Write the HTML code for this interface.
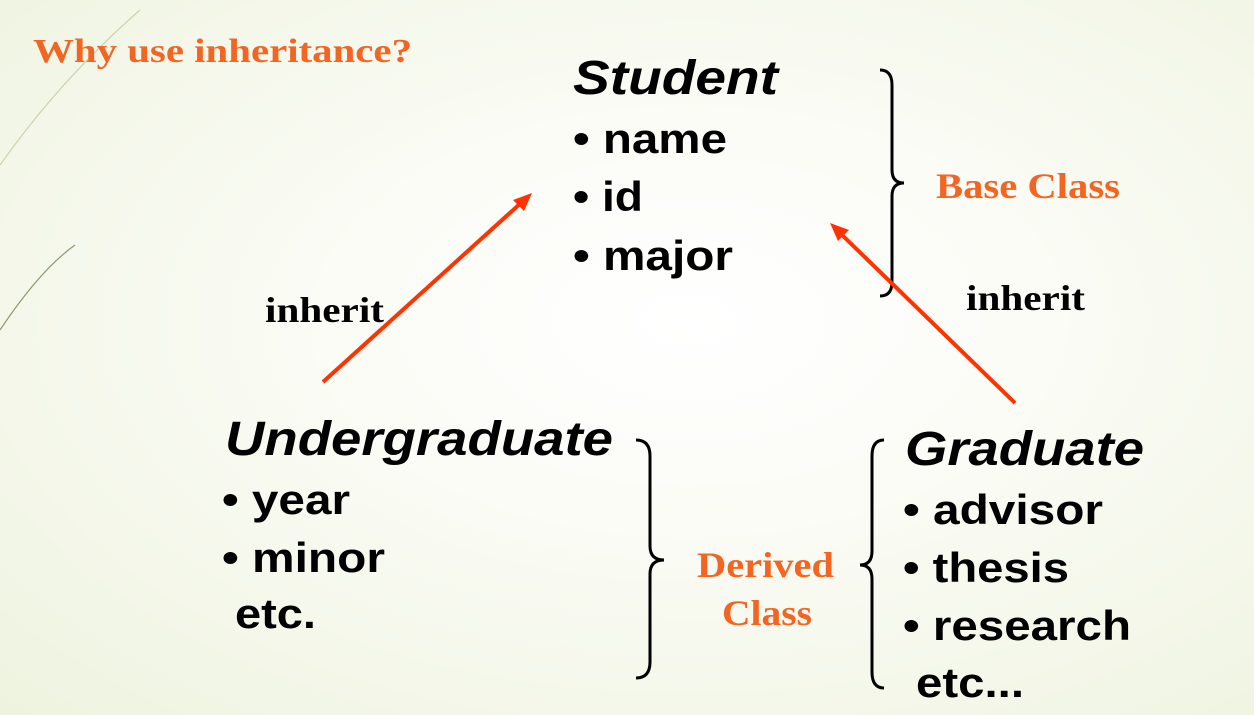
<!DOCTYPE html>
<html><head><meta charset="utf-8"><style>
html,body{margin:0;padding:0;width:1254px;height:715px;overflow:hidden}
body{background:radial-gradient(ellipse at 55% 45%,#ffffff 0%,#fbfcf6 35%,#eef3df 100%)}
svg{position:absolute;left:0;top:0}
.s{font-family:"Liberation Sans",sans-serif;font-weight:bold;fill:#000}
.t{font-family:"Liberation Serif",serif;font-weight:bold}
</style></head><body>
<svg width="1254" height="715" viewBox="0 0 1254 715">
<path d="M0 165 Q60 80 140 10" stroke="#c9d3b0" stroke-width="1.2" fill="none"/>
<path d="M0 330 Q40 270 75 245" stroke="#8a9a70" stroke-width="1.2" fill="none"/>
<text x="33" y="62" class="t" font-size="34" fill="#f26522" textLength="379" lengthAdjust="spacingAndGlyphs">Why use inheritance?</text>
<text x="573" y="94" class="s" font-size="48" font-style="italic" textLength="205" lengthAdjust="spacingAndGlyphs">Student</text>
<text x="573" y="153" class="s" font-size="42" textLength="154" lengthAdjust="spacingAndGlyphs">• name</text>
<text x="573" y="211" class="s" font-size="42" textLength="70" lengthAdjust="spacingAndGlyphs">• id</text>
<text x="573" y="270" class="s" font-size="42" textLength="160" lengthAdjust="spacingAndGlyphs">• major</text>
<path d="M880 70 Q892 70 892 85 L892 170 Q892 183 904 183 Q892 183 892 196 L892 282 Q892 296 880 296" stroke="#000" stroke-width="3" fill="none"/>
<text x="936" y="198" class="t" font-size="36" fill="#f26522" textLength="184" lengthAdjust="spacingAndGlyphs">Base Class</text>
<text x="265" y="322" class="t" font-size="36" fill="#000" textLength="119" lengthAdjust="spacingAndGlyphs">inherit</text>
<text x="966" y="310" class="t" font-size="36" fill="#000" textLength="119" lengthAdjust="spacingAndGlyphs">inherit</text>
<line x1="323" y1="382" x2="522" y2="202" stroke="#ff3300" stroke-width="4"/>
<polygon points="532,193 513,200 524,211" fill="#ff3300"/>
<line x1="1015" y1="403" x2="840" y2="233" stroke="#ff3300" stroke-width="4"/>
<polygon points="830,223 849,230 838,241" fill="#ff3300"/>
<text x="225" y="455" class="s" font-size="48" font-style="italic" textLength="388" lengthAdjust="spacingAndGlyphs">Undergraduate</text>
<text x="222" y="514" class="s" font-size="42" textLength="128" lengthAdjust="spacingAndGlyphs">• year</text>
<text x="222" y="572" class="s" font-size="42" textLength="163" lengthAdjust="spacingAndGlyphs">• minor</text>
<text x="235" y="628" class="s" font-size="42" textLength="81" lengthAdjust="spacingAndGlyphs">etc.</text>
<path d="M636 440 Q650 440 650 456 L650 546 Q650 560 664 560 Q650 560 650 574 L650 662 Q650 678 636 678" stroke="#000" stroke-width="3" fill="none"/>
<text x="697" y="577" class="t" font-size="36" fill="#f26522" textLength="137" lengthAdjust="spacingAndGlyphs">Derived</text>
<text x="722" y="625" class="t" font-size="36" fill="#f26522" textLength="90" lengthAdjust="spacingAndGlyphs">Class</text>
<path d="M884 440 Q872 440 872 456 L872 551 Q872 565 860 565 Q872 565 872 579 L872 672 Q872 688 884 688" stroke="#000" stroke-width="3" fill="none"/>
<text x="905" y="465" class="s" font-size="48" font-style="italic" textLength="239" lengthAdjust="spacingAndGlyphs">Graduate</text>
<text x="903" y="524" class="s" font-size="42" textLength="200" lengthAdjust="spacingAndGlyphs">• advisor</text>
<text x="903" y="582" class="s" font-size="42" textLength="166" lengthAdjust="spacingAndGlyphs">• thesis</text>
<text x="903" y="640" class="s" font-size="42" textLength="228" lengthAdjust="spacingAndGlyphs">• research</text>
<text x="916" y="697" class="s" font-size="42" textLength="108" lengthAdjust="spacingAndGlyphs">etc...</text>
</svg>
</body></html>
